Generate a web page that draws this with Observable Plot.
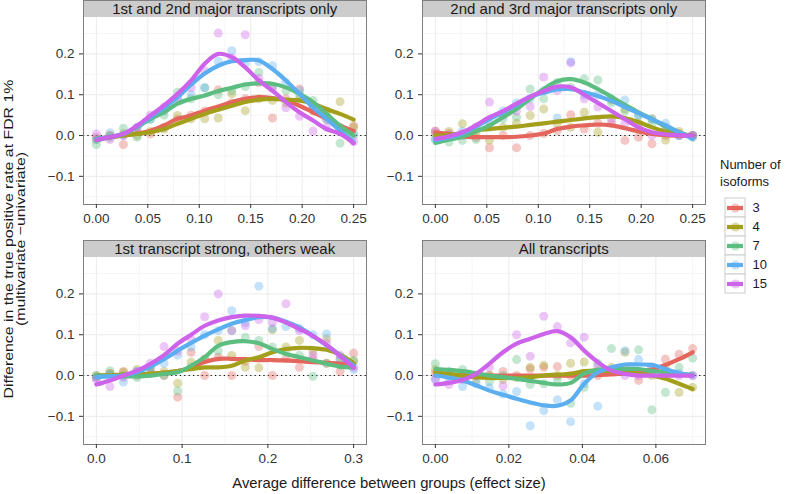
<!DOCTYPE html>
<html>
<head>
<meta charset="utf-8">
<script src="https://cdn.jsdelivr.net/npm/d3@7"></script>
<script src="https://cdn.jsdelivr.net/npm/@observablehq/plot@0.6"></script>
<style>
  body { margin: 0; background: #fff; }
  #root { position: relative; width: 788px; height: 494px; font-family: "Liberation Sans", Arial, sans-serif; color: #1a1a1a; overflow: hidden; }
  .strip { position: absolute; box-sizing: border-box; height: 17px; background: #CCCCCC; border: 1px solid #7F7F7F; border-bottom: none; font-size: 15px; line-height: 15px; text-align: center; color: #1a1a1a; white-space: nowrap; }
</style>
</head>
<body>
<div id="root"></div>
<script>
// ---------- data ----------
const isoforms = [3, 4, 7, 10, 15];
const palette = ["#E3655C", "#A39F1B", "#5CBD80", "#5BAEF0", "#CD62EB"];

const panelTitles = ["1st and 2nd major transcripts only", "2nd and 3rd major transcripts only",
                     "1st transcript strong, others weak", "All transcripts"];

const yTicks = [-0.1, 0, 0.1, 0.2];
const yTickLabels = ["\u22120.1", "0.0", "0.1", "0.2"];

const xTicksA = [0, 0.05, 0.1, 0.15, 0.2, 0.25];
const xTickLabelsA = ["0.00", "0.05", "0.10", "0.15", "0.20", "0.25"];
const xTicksC = [0, 0.1, 0.2, 0.3];
const xTickLabelsC = ["0.0", "0.1", "0.2", "0.3"];
const xTicksD = [0, 0.02, 0.04, 0.06];
const xTickLabelsD = ["0.00", "0.02", "0.04", "0.06"];

// effect sizes (20 per panel)
const xA = [0, 0.0132, 0.0263, 0.0395, 0.0526, 0.0658, 0.0789, 0.0921, 0.1053, 0.1184, 0.1316, 0.1447, 0.1579, 0.1711, 0.1842, 0.1974, 0.2105, 0.2237, 0.2368, 0.25];
const xC = [0, 0.0158, 0.0316, 0.0474, 0.0632, 0.0789, 0.0947, 0.1105, 0.1263, 0.1421, 0.1579, 0.1737, 0.1895, 0.2053, 0.2211, 0.2368, 0.2526, 0.2684, 0.2842, 0.3];
const xD = [0, 0.0037, 0.0074, 0.0111, 0.0147, 0.0184, 0.0221, 0.0258, 0.0295, 0.0332, 0.0368, 0.0405, 0.0442, 0.0479, 0.0516, 0.0553, 0.0589, 0.0626, 0.0663, 0.07];

// points, one row per isoform count (3, 4, 7, 10, 15)
const p1Points = [
  [-0.005, 0.0, -0.022, 0.01, 0.004, 0.02, 0.04, 0.05, 0.06, 0.112, 0.08, 0.09, 0.13, 0.043, 0.09, 0.114, 0.06, 0.04, 0.02, 0.024],
  [-0.01, 0.0, 0.005, 0.0, 0.01, 0.016, 0.049, 0.041, 0.041, 0.043, 0.102, 0.061, 0.09, 0.086, 0.08, 0.09, 0.07, 0.06, 0.083, 0.02],
  [-0.022, -0.005, 0.018, -0.004, 0.04, 0.05, 0.106, 0.09, 0.117, 0.1, 0.11, 0.12, 0.155, 0.12, 0.11, 0.1, 0.086, 0.05, -0.019, 0.005],
  [-0.01, 0.007, 0.0, 0.02, 0.04, 0.06, 0.09, 0.1, 0.117, 0.182, 0.208, 0.176, 0.181, 0.171, 0.13, 0.11, 0.07, 0.04, 0.015, 0.0],
  [0.004, -0.01, 0.0, 0.02, 0.05, 0.07, 0.09, 0.117, 0.159, 0.251, 0.19, 0.247, 0.14, 0.115, 0.068, 0.047, 0.011, 0.02, 0.01, -0.015]
];
const p1Smooth = [
  [-0.008, -0.004, 0, 0.005, 0.012, 0.025, 0.041, 0.049, 0.061, 0.071, 0.082, 0.09, 0.094, 0.092, 0.086, 0.073, 0.057, 0.041, 0.024, 0.011],
  [-0.008, -0.004, 0, 0.004, 0.008, 0.016, 0.029, 0.041, 0.053, 0.063, 0.073, 0.082, 0.088, 0.09, 0.088, 0.086, 0.078, 0.065, 0.053, 0.039],
  [-0.012, -0.004, 0.004, 0.02, 0.041, 0.057, 0.078, 0.09, 0.098, 0.109, 0.117, 0.125, 0.128, 0.127, 0.118, 0.102, 0.082, 0.053, 0.024, 0.0],
  [-0.008, -0.003, 0.004, 0.022, 0.045, 0.068, 0.094, 0.125, 0.152, 0.171, 0.182, 0.185, 0.184, 0.163, 0.135, 0.102, 0.069, 0.041, 0.012, -0.016],
  [-0.011, -0.004, 0.004, 0.024, 0.049, 0.074, 0.102, 0.135, 0.176, 0.2, 0.192, 0.167, 0.135, 0.11, 0.082, 0.057, 0.037, 0.016, 0.004, -0.019]
];

const p2Points = [
  [0.011, 0.005, 0.0, -0.005, -0.03, 0.0, -0.03, 0.0, 0.005, 0.012, 0.051, 0.016, 0.03, 0.03, -0.012, -0.004, -0.02, 0.0, 0.005, 0.0],
  [0.005, 0.01, 0.029, 0.005, -0.011, 0.02, 0.03, 0.049, 0.065, 0.03, 0.02, 0.057, 0.008, 0.087, 0.065, 0.03, 0.041, -0.011, 0.01, 0.0],
  [-0.008, -0.016, -0.012, -0.01, 0.02, 0.041, 0.045, 0.114, 0.09, 0.13, 0.118, 0.139, 0.136, 0.08, 0.06, 0.05, 0.03, 0.02, 0.0, -0.005],
  [-0.01, 0.0, 0.01, 0.02, 0.03, 0.06, 0.08, 0.09, 0.11, 0.043, 0.181, 0.1, 0.1, 0.09, 0.087, 0.05, 0.04, 0.03, 0.0, 0.0],
  [0.01, 0.0, 0.005, 0.02, 0.082, 0.05, 0.06, 0.071, 0.143, 0.11, 0.178, 0.09, 0.07, 0.04, 0.03, 0.02, 0.0, 0.01, 0.0, 0.0]
];
const p2Smooth = [
  [0.008, 0.004, -0.002, -0.004, -0.004, -0.004, -0.003, 0.0, 0.005, 0.016, 0.022, 0.025, 0.027, 0.025, 0.018, 0.01, 0.004, 0.001, 0.0, 0.0],
  [0.0, 0.002, 0.006, 0.012, 0.016, 0.019, 0.022, 0.026, 0.03, 0.034, 0.038, 0.042, 0.045, 0.047, 0.043, 0.033, 0.02, 0.01, 0.004, 0.0],
  [-0.018, -0.01, -0.003, 0.01, 0.025, 0.045, 0.065, 0.09, 0.114, 0.133, 0.138, 0.13, 0.114, 0.095, 0.075, 0.057, 0.04, 0.022, 0.008, -0.004],
  [-0.012, -0.005, 0.005, 0.022, 0.04, 0.057, 0.075, 0.095, 0.105, 0.113, 0.114, 0.106, 0.097, 0.085, 0.07, 0.055, 0.04, 0.025, 0.008, -0.008],
  [-0.008, -0.002, 0.008, 0.025, 0.045, 0.06, 0.078, 0.095, 0.109, 0.12, 0.118, 0.1, 0.08, 0.06, 0.04, 0.02, 0.008, 0.003, 0.001, 0.0]
];

const p3Points = [
  [-0.005, 0.005, 0.01, 0.0, 0.01, 0.0, -0.053, 0.057, 0.0, 0.045, 0.0, 0.035, 0.071, 0.0, 0.041, 0.02, 0.04, 0.03, 0.01, 0.055],
  [0.0, 0.005, 0.008, 0.015, 0.02, 0.01, -0.019, 0.033, 0.04, 0.086, 0.049, 0.02, 0.019, 0.112, 0.07, 0.086, 0.06, 0.09, 0.04, 0.035],
  [0.0, 0.012, 0.0, -0.005, 0.005, 0.0, -0.038, 0.02, 0.04, 0.06, 0.11, 0.094, 0.086, 0.07, 0.06, 0.05, -0.002, 0.03, 0.025, 0.037],
  [-0.005, 0.0, -0.016, 0.01, 0.02, 0.03, 0.05, 0.07, 0.1, 0.11, 0.159, 0.13, 0.219, 0.115, 0.12, 0.115, 0.1, 0.102, 0.04, 0.015],
  [-0.01, -0.027, -0.005, 0.01, 0.03, 0.071, 0.06, 0.09, 0.144, 0.2, 0.11, 0.122, 0.137, 0.13, 0.176, 0.11, 0.05, 0.08, 0.05, 0.02]
];
const p3Smooth = [
  [0.0, 0.0, 0.001, 0.002, 0.004, 0.007, 0.011, 0.02, 0.033, 0.041, 0.041, 0.04, 0.038, 0.038, 0.037, 0.035, 0.033, 0.031, 0.029, 0.026],
  [0.0, 0.001, 0.002, 0.003, 0.004, 0.007, 0.011, 0.016, 0.02, 0.02, 0.024, 0.037, 0.045, 0.057, 0.065, 0.068, 0.067, 0.063, 0.051, 0.03],
  [0.0, -0.001, -0.002, -0.002, 0.0, 0.004, 0.008, 0.024, 0.045, 0.073, 0.082, 0.084, 0.079, 0.065, 0.053, 0.045, 0.037, 0.029, 0.022, 0.02],
  [-0.004, -0.002, 0.0, 0.008, 0.022, 0.04, 0.061, 0.08, 0.098, 0.113, 0.127, 0.136, 0.143, 0.142, 0.132, 0.118, 0.097, 0.074, 0.05, 0.024],
  [-0.022, -0.012, 0.0, 0.012, 0.029, 0.05, 0.078, 0.1, 0.122, 0.135, 0.143, 0.147, 0.146, 0.142, 0.13, 0.114, 0.097, 0.075, 0.048, 0.019]
];

const p4Points = [
  [0.005, 0.0, -0.005, 0.0, 0.0, 0.01, 0.0, 0.016, 0.02, 0.022, 0.0, 0.005, 0.0, 0.01, 0.02, -0.012, 0.02, 0.04, 0.052, 0.066],
  [0.015, 0.005, 0.0, -0.01, 0.0, -0.01, -0.005, 0.02, 0.025, 0.0, 0.03, 0.033, 0.01, 0.02, 0.057, 0.01, 0.0, 0.02, -0.041, -0.029],
  [0.029, 0.01, 0.015, 0.0, -0.015, 0.0, 0.039, -0.022, -0.02, -0.01, -0.068, -0.029, 0.03, 0.066, 0.01, 0.063, -0.084, -0.041, 0.02, 0.043],
  [-0.008, -0.01, -0.027, -0.02, -0.03, -0.045, -0.039, -0.123, -0.086, -0.06, -0.113, -0.02, -0.075, 0.01, 0.061, 0.039, 0.02, 0.01, 0.005, 0.0],
  [-0.01, -0.022, -0.01, 0.0, 0.02, -0.025, 0.1, 0.047, 0.145, 0.12, 0.08, 0.094, 0.022, 0.01, 0.0, 0.0, 0.01, 0.0, 0.0, 0.0]
];
const p4Smooth = [
  [0.003, 0.002, 0.001, 0.0, 0.0, 0.0, 0.0, 0.0, 0.0, 0.0, 0.0, 0.0, 0.001, 0.003, 0.005, 0.008, 0.014, 0.026, 0.04, 0.057],
  [0.008, 0.004, 0.0, -0.004, -0.006, -0.006, -0.006, -0.004, 0.0, 0.002, 0.004, 0.011, 0.012, 0.011, 0.008, 0.004, 0.0, -0.008, -0.02, -0.033],
  [0.016, 0.014, 0.011, 0.006, 0.0, -0.004, -0.008, -0.013, -0.018, -0.022, -0.018, 0.005, 0.014, 0.016, 0.016, 0.016, 0.011, 0.008, 0.004, 0.002],
  [0.0, -0.005, -0.012, -0.024, -0.037, -0.047, -0.057, -0.066, -0.073, -0.074, -0.061, -0.02, 0.008, 0.02, 0.027, 0.027, 0.026, 0.016, 0.006, 0.0],
  [-0.022, -0.018, -0.011, 0.004, 0.029, 0.057, 0.078, 0.09, 0.102, 0.109, 0.094, 0.061, 0.033, 0.012, 0.004, 0.0, 0.0, 0.0, 0.0, 0.0]
];

// ---------- build ----------
const root = document.getElementById("root");
const FW = 283, FH = 188, ML = 60, MR = 14, MB = 34;
const yDomain = [-0.169, 0.2917];

function toRows(xs, rows) {
  const out = [];
  rows.forEach((vals, s) => vals.forEach((v, i) => out.push({x: xs[i], y: v, iso: isoforms[s]})));
  return out;
}
function minors(t) {
  const step = t[1] - t[0], m = [];
  for (let i = -1; i < t.length; i++) m.push(t[0] + (i + 0.5) * step);
  return m;
}

function panel(xs, pts, sm, xDom, xTicks, xLabels) {
  const points = toRows(xs, pts);
  const lines = toRows(xs, sm);
  const yMinor = minors(yTicks).filter(v => v > yDomain[0] && v < yDomain[1]);
  const xMinor = minors(xTicks).filter(v => v > xDom[0] && v < xDom[1]);
  return Plot.plot({
    width: ML + FW + MR, height: FH + MB,
    marginLeft: ML, marginRight: MR, marginTop: 0, marginBottom: MB,
    style: {fontFamily: "Liberation Sans, Arial, sans-serif", fontSize: "13.5px", color: "#333", background: "transparent", overflow: "visible"},
    x: {domain: xDom},
    y: {domain: yDomain},
    color: {domain: isoforms, range: palette},
    marks: [
      Plot.frame({fill: "white", stroke: null}),
      Plot.ruleX(xMinor, {stroke: "#F5F5F5", strokeWidth: 1}),
      Plot.ruleY(yMinor, {stroke: "#F5F5F5", strokeWidth: 1}),
      Plot.ruleX(xTicks, {stroke: "#EBEBEB", strokeWidth: 1}),
      Plot.ruleY(yTicks, {stroke: "#EBEBEB", strokeWidth: 1}),
      Plot.ruleY([0], {stroke: "#000", strokeDasharray: "1.2,3.2", strokeWidth: 1.1}),
      Plot.dot(points, {x: "x", y: "y", fill: "iso", r: 4.5, fillOpacity: 0.36, stroke: null}),
      Plot.line(lines, {x: "x", y: "y", z: "iso", stroke: "iso", strokeWidth: 4.2, curve: "catmull-rom"}),
      Plot.frame({stroke: "#7F7F7F", strokeWidth: 1}),
      Plot.axisX(xTicks, {tickFormat: (d, i) => xLabels[i], tickSize: 4, tickPadding: 5, label: null, stroke: "#333", fill: "#333", fontSize: 13.5}),
      Plot.axisY(yTicks, {tickFormat: (d, i) => yTickLabels[i], tickSize: 4, tickPadding: 5, label: null, stroke: "#333", fill: "#333", fontSize: 13.5})
    ]
  });
}

function place(el, left, top) {
  el.style.position = "absolute";
  el.style.left = left + "px";
  el.style.top = top + "px";
  root.appendChild(el);
}

const cfg = [
  {xs: xA, pts: p1Points, sm: p1Smooth, dom: [-0.0125, 0.2625], t: xTicksA, l: xTickLabelsA, fx: 83, fy: 16},
  {xs: xA, pts: p2Points, sm: p2Smooth, dom: [-0.0125, 0.2625], t: xTicksA, l: xTickLabelsA, fx: 422, fy: 16},
  {xs: xC, pts: p3Points, sm: p3Smooth, dom: [-0.015, 0.315], t: xTicksC, l: xTickLabelsC, fx: 83, fy: 256},
  {xs: xD, pts: p4Points, sm: p4Smooth, dom: [-0.0035, 0.0735], t: xTicksD, l: xTickLabelsD, fx: 422, fy: 256}
];
cfg.forEach((c, k) => {
  const svg = panel(c.xs, c.pts, c.sm, c.dom, c.t, c.l);
  place(svg, c.fx - ML, c.fy);
  const strip = document.createElement("div");
  strip.className = "strip";
  strip.textContent = panelTitles[k];
  strip.style.left = c.fx + "px";
  strip.style.top = (c.fy - 16) + "px";
  strip.style.width = (FW + 0.5) + "px";
  root.appendChild(strip);
});

// axis titles
const xt = document.createElement("div");
xt.textContent = "Average difference between groups (effect size)";
Object.assign(xt.style, {position: "absolute", left: "89px", width: "600px", top: "474px", textAlign: "center", fontSize: "14.8px", lineHeight: "18px", color: "#1a1a1a"});
root.appendChild(xt);

const yt = document.createElement("div");
yt.innerHTML = "Difference in the true positive rate at FDR 1%<br>(multivariate \u2212univariate)";
Object.assign(yt.style, {position: "absolute", width: "440px", height: "24px", left: (15 - 220) + "px", top: (239 - 12) + "px",
  transform: "rotate(-90deg) scaleX(1.22)", textAlign: "center", fontSize: "13px", lineHeight: "12px", color: "#1a1a1a", whiteSpace: "nowrap"});
root.appendChild(yt);

// legend
const lt = document.createElement("div");
lt.innerHTML = "Number of<br>isoforms";
Object.assign(lt.style, {position: "absolute", left: "720px", top: "157px", fontSize: "13px", lineHeight: "16.5px", color: "#1a1a1a"});
root.appendChild(lt);

const legend = Plot.plot({
  width: 62, height: 97, marginLeft: 1, marginRight: 41, marginTop: 0.5, marginBottom: 0.5,
  style: {fontFamily: "Liberation Sans, Arial, sans-serif", fontSize: "13px", color: "#1a1a1a", background: "transparent", overflow: "visible"},
  x: {domain: ["key"], padding: 0, axis: null},
  y: {domain: isoforms, padding: 0, axis: null},
  color: {domain: isoforms, range: palette},
  marks: [
    Plot.cell(isoforms, {x: () => "key", y: d => d, fill: "white", stroke: "#CCCCCC", strokeWidth: 1}),
    Plot.dot(isoforms, {x: () => "key", y: d => d, fill: d => d, r: 4.5, fillOpacity: 0.36}),
    Plot.tickY(isoforms, {x: () => "key", y: d => d, stroke: d => d, strokeWidth: 4.2, insetLeft: 2, insetRight: 2}),
    Plot.axisY({anchor: "right", tickSize: 0, tickPadding: 7, label: null, fontSize: 13})
  ]
});
place(legend, 724, 196.5);
</script>
</body>
</html>
